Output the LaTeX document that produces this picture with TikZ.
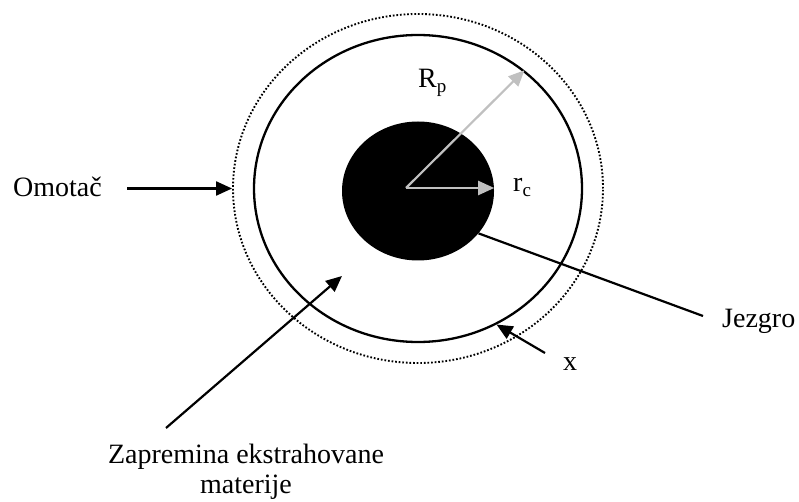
\documentclass[tikz,border=0pt]{standalone}
\usepackage{fontspec}
\setmainfont{Liberation Serif}
\usetikzlibrary{shapes.geometric,arrows.meta}
\tikzset{
  lbl/.style={inner sep=0pt,font=\fontsize{28}{30}\selectfont},
  ring/.style={ellipse,inner sep=0pt,line width=2.3pt,draw=black},
  dotring/.style={ellipse,inner sep=0pt,line width=1.9pt,draw=black,dash pattern=on 1.7pt off 1.9pt},
  blackarrow/.style={line width=2.2pt,-{Triangle[length=16pt,width=14pt]}},
  grayarrow/.style={line width=2.2pt,-{Triangle[length=16pt,width=14pt]},color={rgb,255:red,192;green,192;blue,192}},
  plainline/.style={line width=2.2pt}
}
\newcommand{\mysub}[1]{\raisebox{-5pt}{\fontsize{19}{19}\selectfont #1}}
\begin{document}
\begin{tikzpicture}[x=1pt,y=-1pt]
\useasboundingbox (0,0) rectangle (799,502);
% shapes
\node[dotring,minimum width=370pt,minimum height=349pt] (dot) at (418,188.5) {};
\node[ring,minimum width=328pt,minimum height=307pt] (solid) at (418,188.5) {};
\node[ellipse,inner sep=0pt,fill=black,minimum width=152pt,minimum height=139pt] (core) at (418,191) {};
% labels
\node[lbl,anchor=base west] (om) at (13,197) {Omotač};
\node[lbl,anchor=base west] (jez) at (722,327) {Jezgro};
\node[lbl,anchor=base west] (xl) at (563,370) {x};
\node[lbl,anchor=base west] (rp) at (418,88) {R\mysub{p}};
\node[lbl,anchor=base west] (rc) at (513,192) {r\mysub{c}};
\node[lbl,anchor=north,align=center] (zap) at (246,444) {Zapremina ekstrahovane\\materije};
% coordinates
\coordinate (o) at (406,188);
\coordinate (omstart) at (127,188.5);
\coordinate (jzend) at (703,316);
\coordinate (xstart) at (545,353);
\coordinate (zstart) at (166,428);
\coordinate (ztip) at (342,276);
% connectors
\draw[grayarrow] (o) -- (solid.48);
\draw[grayarrow] (o) -- (o -| core.east);
\draw[blackarrow] (omstart) -- (dot.west);
\draw[plainline] (core.-35) -- (jzend);
\draw[blackarrow] (xstart) -- (solid.-60);
\draw[blackarrow] (zstart) -- (ztip);
\end{tikzpicture}
\end{document}
